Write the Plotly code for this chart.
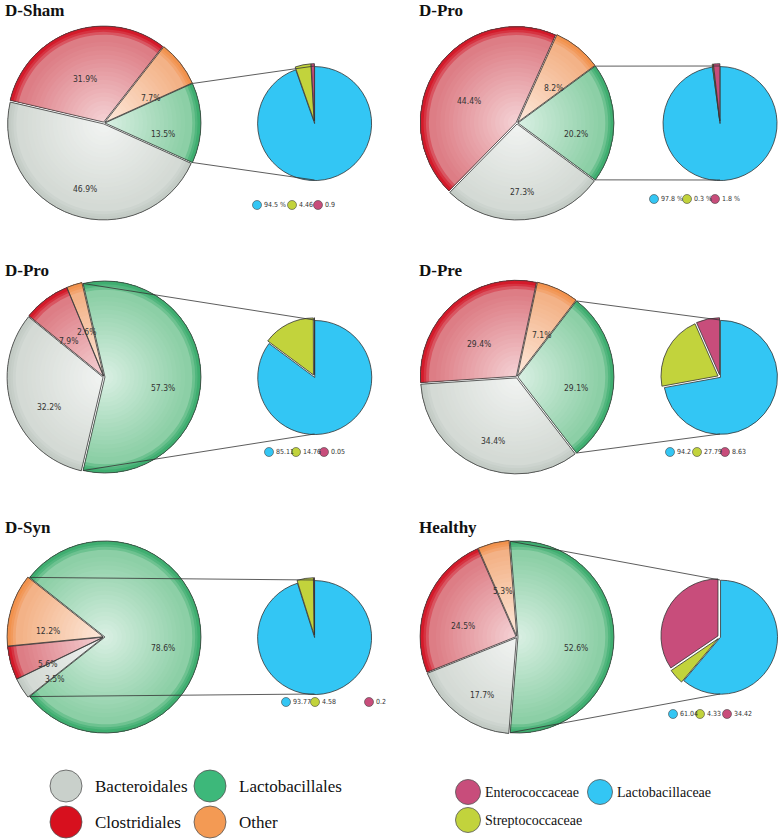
import math
import plotly.graph_objects as go

W, H = 784, 839

# ---------------- data ----------------
panel_titles = ["D-Sham", "D-Pro", "D-Pro", "D-Pre", "D-Syn", "Healthy"]
order_names = ["Lactobacillales", "Bacteroidales", "Clostridiales", "Other"]
lactobacillales = [13.5, 20.2, 57.3, 29.1, 78.6, 52.6]
bacteroidales = [46.9, 27.3, 32.2, 34.4, 3.5, 17.7]
clostridiales = [31.9, 44.4, 7.9, 29.4, 5.6, 24.5]
other = [7.7, 8.2, 2.6, 7.1, 12.2, 5.3]

family_names = ["Lactobacillaceae", "Streptococcaceae", "Enterococcaceae"]
lactobacillaceae = [94.5, 97.8, 85.11, 94.2, 93.77, 61.04]
streptococcaceae = [4.46, 0.3, 14.76, 27.79, 4.58, 4.33]
enterococcaceae = [0.9, 1.8, 0.05, 8.63, 0.2, 34.42]
family_value_labels = [
    ["94.5 %", "4.46", "0.9"],
    ["97.8 %", "0.3 %", "1.8 %"],
    ["85.11", "14.76", "0.05"],
    ["94.2", "27.79", "8.63"],
    ["93.77", "4.58", "0.2"],
    ["61.04", "4.33", "34.42"],
]

order_legend = ["Bacteroidales", "Lactobacillales", "Clostridiales", "Other"]
family_legend = ["Enterococcaceae", "Lactobacillaceae", "Streptococcaceae"]

# ---------------- styles / layout ----------------
center_col = {"Lactobacillales": "#d8efe2", "Bacteroidales": "#f1f3f1",
              "Clostridiales": "#f4d0d3", "Other": "#fde8da"}
edge_col = {"Lactobacillales": "#8ccfa6", "Bacteroidales": "#d4dad5",
            "Clostridiales": "#dd7d85", "Other": "#f3b287"}
rim_col = {"Lactobacillales": "#3fae70", "Bacteroidales": "#c3cbc5",
           "Clostridiales": "#d41a2a", "Other": "#f2924d"}
legend_col = {"Bacteroidales": "#c9d0cb", "Lactobacillales": "#3db87a",
              "Clostridiales": "#d7101e", "Other": "#f39a54"}
family_col = {"Lactobacillaceae": "#33c6f4", "Streptococcaceae": "#c2d33c",
              "Enterococcaceae": "#c84d7b"}

big_centers = [(104, 123), (517, 123), (104, 377), (517, 377), (104, 637), (517, 637)]
small_centers = [(314.5, 123), (720, 123), (314.5, 377), (720, 377), (314.5, 637), (720, 637)]
title_xy = [(3, 10), (417, 10), (3, 270), (417, 270), (3, 527), (417, 527)]
mini_legend_y = [205, 199, 452, 452, 702, 714]
mini_legend_x = [[257, 292, 318], [654, 687, 715], [269, 296, 324],
                 [670, 697, 725], [286, 315, 369], [673, 700, 727]]
R_BIG, R_SMALL = 96, 57
PULL_BIG = 0.01
PULL_SMALL = [0.01, 0.04, 0.04]
SMALL_FONT = "DejaVu Sans Condensed, Liberation Sans Narrow, DejaVu Sans"


def hex2rgb(h):
    h = h.lstrip("#")
    return [int(h[i:i + 2], 16) for i in (0, 2, 4)]


def mix(c1, c2, t):
    a, b = hex2rgb(c1), hex2rgb(c2)
    return "rgb(%d,%d,%d)" % tuple(round(a[k] + (b[k] - a[k]) * t) for k in range(3))


def domain_for(cx, cy, r, maxpull):
    d = r * (1 + maxpull)
    return dict(x=[(cx - d) / W, (cx + d) / W], y=[1 - (cy + d) / H, 1 - (cy - d) / H])


fig = go.Figure()
annotations = []
shapes = []

N_LAYERS = 20
grad_layers = [(0.88 * k / N_LAYERS, k / (N_LAYERS - 1)) for k in range(N_LAYERS)]

for i in range(6):
    vals = [lactobacillales[i], bacteroidales[i], clostridiales[i], other[i]]
    tot = sum(vals)
    rot = 90 - 180 * vals[0] / tot
    cx, cy = big_centers[i]
    dom = domain_for(cx, cy, R_BIG, PULL_BIG)
    common = dict(values=vals, labels=order_names, sort=False, direction="clockwise",
                  rotation=rot, domain=dom, pull=[PULL_BIG] * 4, textinfo="none",
                  hoverinfo="skip", showlegend=False)
    for h, t in grad_layers:
        cols = [mix(center_col[n], edge_col[n], t) for n in order_names]
        fig.add_trace(go.Pie(hole=h, marker=dict(colors=cols, line=dict(width=0)), **common))
    cols = [mix(edge_col[n], rim_col[n], 0.4) for n in order_names]
    fig.add_trace(go.Pie(hole=0.91, marker=dict(colors=cols, line=dict(width=0)), **common))
    cols = [mix(edge_col[n], rim_col[n], 0.75) for n in order_names]
    fig.add_trace(go.Pie(hole=0.94, marker=dict(colors=cols, line=dict(width=0)), **common))
    cols = [rim_col[n] for n in order_names]
    fig.add_trace(go.Pie(hole=0.965, marker=dict(colors=cols, line=dict(width=0)), **common))
    fig.add_trace(go.Pie(marker=dict(colors=["rgba(0,0,0,0)"] * 4,
                                     line=dict(color="#3a3a3a", width=0.8)), **common))

    # percentage labels
    start = rot
    for v in vals:
        mid = math.radians(start + v / tot * 180)
        rr = R_BIG * (0.6 + PULL_BIG)
        annotations.append(dict(x=cx + rr * math.sin(mid), y=cy - rr * math.cos(mid) + 11,
                                xref="x", yref="y", text="%.1f%%" % v, showarrow=False,
                                font=dict(family=SMALL_FONT, size=8.5, color="#333")))
        start += v / tot * 360

    # small pie
    svals = [lactobacillaceae[i], streptococcaceae[i], enterococcaceae[i]]
    sx, sy = small_centers[i]
    fig.add_trace(go.Pie(values=svals, labels=family_names, sort=False, direction="clockwise",
                         rotation=0, domain=domain_for(sx, sy, R_SMALL, max(PULL_SMALL)),
                         pull=PULL_SMALL, textinfo="none", hoverinfo="skip", showlegend=False,
                         marker=dict(colors=[family_col[n] for n in family_names],
                                     line=dict(color="#333", width=0.8))))

    # connector lines from Lactobacillales slice to small pie
    f = vals[0] / tot
    for ang, ty in ((90 - 180 * f, sy - R_SMALL), (90 + 180 * f, sy + R_SMALL)):
        a = math.radians(ang)
        x0 = cx + R_BIG * math.sin(a) + PULL_BIG * R_BIG
        y0 = cy - R_BIG * math.cos(a)
        shapes.append(dict(type="line", xref="x", yref="y", x0=x0, y0=y0, x1=sx, y1=ty,
                           line=dict(color="#333", width=0.8), layer="above"))

    # title
    tx, tyy = title_xy[i]
    annotations.append(dict(x=tx, y=tyy, xref="x", yref="y", xanchor="left", yanchor="middle",
                            text="<b>%s</b>" % panel_titles[i], showarrow=False,
                            font=dict(family="Liberation Serif", size=17, color="#111")))

    # mini legend
    fig.add_trace(go.Scatter(x=mini_legend_x[i], y=[mini_legend_y[i]] * 3, mode="markers",
                             marker=dict(size=9, color=[family_col[n] for n in family_names],
                                         line=dict(color="#444", width=0.6)),
                             hoverinfo="skip", showlegend=False))
    for k in range(3):
        annotations.append(dict(x=mini_legend_x[i][k] + 4.5, y=mini_legend_y[i], xref="x", yref="y",
                                xanchor="left", yanchor="middle", text=family_value_labels[i][k],
                                showarrow=False,
                                font=dict(family=SMALL_FONT, size=7, color="#333")))

# bottom legends
ol_x = [66, 210, 66, 210]
ol_y = [786, 786, 822, 822]
fig.add_trace(go.Scatter(x=ol_x, y=ol_y, mode="markers", hoverinfo="skip", showlegend=False,
                         marker=dict(size=32, color=[legend_col[n] for n in order_legend],
                                     line=dict(color="#555", width=0.8))))
for k, n in enumerate(order_legend):
    annotations.append(dict(x=ol_x[k] + 27, y=ol_y[k], xref="x", yref="y", xanchor="left",
                            yanchor="middle", text=n, showarrow=False,
                            font=dict(family="Liberation Serif", size=17, color="#111")))

fl_x = [468, 600, 468]
fl_y = [792, 792, 820]
fig.add_trace(go.Scatter(x=fl_x, y=fl_y, mode="markers", hoverinfo="skip", showlegend=False,
                         marker=dict(size=25, color=[family_col[n] for n in family_legend],
                                     line=dict(color="#555", width=0.8))))
for k, n in enumerate(family_legend):
    annotations.append(dict(x=fl_x[k] + 15, y=fl_y[k], xref="x", yref="y", xanchor="left",
                            yanchor="middle", text=n, showarrow=False,
                            font=dict(family="Liberation Serif", size=14, color="#111")))

fig.update_layout(
    width=W, height=H, margin=dict(l=0, r=0, t=0, b=0),
    paper_bgcolor="white", plot_bgcolor="white",
    xaxis=dict(range=[0, W], visible=False, fixedrange=True, domain=[0, 1]),
    yaxis=dict(range=[H, 0], visible=False, fixedrange=True, domain=[0, 1]),
    annotations=annotations, shapes=shapes, showlegend=False,
)

fig.write_html("out.html", config={"displayModeBar": False},
               post_script="document.body.style.margin='0';document.body.style.overflow='hidden';")
